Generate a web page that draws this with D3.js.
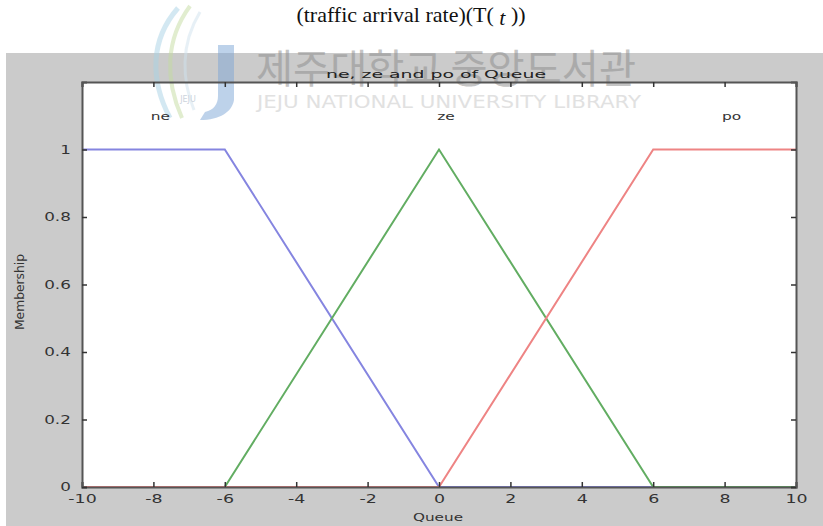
<!DOCTYPE html>
<html>
<head>
<meta charset="utf-8">
<script src="https://cdn.jsdelivr.net/npm/d3@7"></script>
<style>
  body { margin: 0; background: #fff; }
  svg { display: block; }
</style>
</head>
<body>
<div id="chart-area"></div>
<script>
// membership function breakpoints (x = Queue, y = Membership)
const queueX = [-10, -6, 0, 6, 10];
const neY = [1, 1, 0, 0, 0];
const zeY = [0, 0, 1, 0, 0];
const poY = [0, 0, 0, 1, 1];

const mfNames = ['ne', 'ze', 'po'];
const mfLabelX = [-8, 0, 8];
const mfColors = ['#8585e0', '#62ad62', '#ee8484'];

const xTicks = [-10, -8, -6, -4, -2, 0, 2, 4, 6, 8, 10];
const yTicks = [0, 0.2, 0.4, 0.6, 0.8, 1];

const W = 823, H = 526;
const pLeft = 82, pRight = 796, pTop = 82, pBottom = 487;

const svg = d3.select('#chart-area').append('svg')
  .attr('width', W)
  .attr('height', H);

// figure background
svg.append('rect')
  .attr('x', 6).attr('y', 53)
  .attr('width', W - 6).attr('height', H - 53)
  .attr('fill', '#cbcbcb');

// caption above the figure
const cap = svg.append('text')
  .attr('x', 411).attr('y', 22)
  .attr('text-anchor', 'middle')
  .attr('font-family', 'Liberation Serif, DejaVu Serif, serif')
  .attr('font-size', 22)
  .attr('fill', '#111');
cap.append('tspan').text('(traffic  arrival  rate)(T( ');
cap.append('tspan').attr('font-style', 'italic').attr('dy', 3).text('t');
cap.append('tspan').attr('dy', -3).text(' ))');

const x = d3.scaleLinear().domain([-10, 10]).range([pLeft, pRight]);
const y = d3.scaleLinear().domain([0, 1.2]).range([pBottom, pTop]);

// axes area
svg.append('rect')
  .attr('x', pLeft).attr('y', pTop)
  .attr('width', pRight - pLeft).attr('height', pBottom - pTop)
  .attr('fill', '#fff');

// watermark
const wm = svg.append('g').attr('opacity', 0.5);
wm.append('path')
  .attr('d', 'M178,8 C150,40 150,80 170,118')
  .attr('fill', 'none').attr('stroke', '#a9d3e6').attr('stroke-width', 5);
wm.append('path')
  .attr('d', 'M190,6 C165,40 165,80 182,118')
  .attr('fill', 'none').attr('stroke', '#c4dca0').attr('stroke-width', 4);
wm.append('path')
  .attr('d', 'M200,12 C180,45 182,80 194,110')
  .attr('fill', 'none').attr('stroke', '#d0e3ef').attr('stroke-width', 3);
wm.append('path')
  .attr('d', 'M218,45 L234,45 L234,100 C232,112 220,120 200,120 L205,112 C214,110 218,104 218,96 Z')
  .attr('fill', '#7ea6d6');
wm.append('text')
  .attr('x', 188).attr('y', 102)
  .attr('text-anchor', 'middle')
  .attr('font-family', 'DejaVu Sans, sans-serif')
  .attr('font-size', 8)
  .attr('fill', '#9ab')
  .text('JEJU');
wm.append('text')
  .attr('x', 446).attr('y', 83)
  .attr('text-anchor', 'middle')
  .attr('font-family', 'Noto Sans CJK KR, sans-serif')
  .attr('font-size', 40)
  .attr('textLength', 380)
  .attr('lengthAdjust', 'spacingAndGlyphs')
  .attr('fill', '#8a8a8a')
  .text('제주대학교 중앙도서관');
wm.append('text')
  .attr('x', 449).attr('y', 108)
  .attr('text-anchor', 'middle')
  .attr('font-family', 'DejaVu Sans, sans-serif')
  .attr('font-size', 17)
  .attr('textLength', 384)
  .attr('lengthAdjust', 'spacingAndGlyphs')
  .attr('fill', '#c4c4c4')
  .text('JEJU NATIONAL UNIVERSITY  LIBRARY');

// membership lines, drawn ne, ze, po in order
const series = [neY, zeY, poY];
const line = d3.line()
  .x((d, i) => x(queueX[i]))
  .y(d => y(d));

svg.selectAll('path.mf')
  .data(series)
  .enter()
  .append('path')
  .attr('class', 'mf')
  .attr('d', d => line(d))
  .attr('fill', 'none')
  .attr('stroke', (d, i) => mfColors[i])
  .attr('stroke-width', 2);

// mf labels
svg.selectAll('text.mfname')
  .data(mfNames)
  .enter()
  .append('text')
  .attr('class', 'mfname')
  .attr('x', (d, i) => x(mfLabelX[i]) + 7)
  .attr('y', y(1.1) + 4)
  .attr('text-anchor', 'middle')
  .attr('font-family', 'DejaVu Sans, sans-serif')
  .attr('font-size', 11)
  .attr('fill', '#333')
  .attr('transform', (d, i) => {
    const cx = x(mfLabelX[i]) + 7;
    return `translate(${cx},0) scale(1.4,1) translate(${-cx},0)`;
  })
  .text(d => d);

// axes with inward ticks on all four sides
const styleText = sel => sel.selectAll('text')
  .attr('font-family', 'DejaVu Sans, sans-serif')
  .attr('font-size', 12)
  .attr('fill', '#333');

const axB = svg.append('g')
  .attr('transform', `translate(0,${pBottom})`)
  .call(d3.axisBottom(x).tickValues(xTicks).tickSize(-5).tickPadding(7)
    .tickFormat(d => String(d)));
styleText(axB);
axB.selectAll('.tick text').attr('transform', 'scale(1.45,1)');

const axT = svg.append('g')
  .attr('transform', `translate(0,${pTop})`)
  .call(d3.axisTop(x).tickValues(xTicks).tickSize(-5).tickFormat(''));

const axL = svg.append('g')
  .attr('transform', `translate(${pLeft},0)`)
  .call(d3.axisLeft(y).tickValues(yTicks).tickSize(-5).tickPadding(8)
    .tickFormat(d => String(d)));
styleText(axL);
axL.selectAll('.tick text').attr('transform', 'scale(1.4,1)').attr('x', -8);

const axR = svg.append('g')
  .attr('transform', `translate(${pRight},0)`)
  .call(d3.axisRight(y).tickValues(yTicks).tickSize(-5).tickFormat(''));

[axB, axT, axL, axR].forEach(a => {
  a.select('.domain').attr('stroke', '#555').attr('stroke-width', 2);
  a.selectAll('.tick line').attr('stroke', '#333').attr('stroke-width', 1.5);
});

// title and axis labels
svg.append('text')
  .attr('x', 436).attr('y', 78)
  .attr('text-anchor', 'middle')
  .attr('font-family', 'DejaVu Sans, sans-serif')
  .attr('font-size', 11)
  .attr('textLength', 220)
  .attr('lengthAdjust', 'spacingAndGlyphs')
  .attr('fill', '#222')
  .text('ne, ze and po of Queue');

svg.append('text')
  .attr('x', 438).attr('y', 521)
  .attr('text-anchor', 'middle')
  .attr('font-family', 'DejaVu Sans, sans-serif')
  .attr('font-size', 11)
  .attr('textLength', 50)
  .attr('lengthAdjust', 'spacingAndGlyphs')
  .attr('fill', '#333')
  .text('Queue');

svg.append('text')
  .attr('transform', 'translate(24,292) rotate(-90)')
  .attr('text-anchor', 'middle')
  .attr('font-family', 'DejaVu Sans, sans-serif')
  .attr('font-size', 13)
  .attr('textLength', 76)
  .attr('lengthAdjust', 'spacingAndGlyphs')
  .attr('fill', '#333')
  .text('Membership');
</script>
</body>
</html>
